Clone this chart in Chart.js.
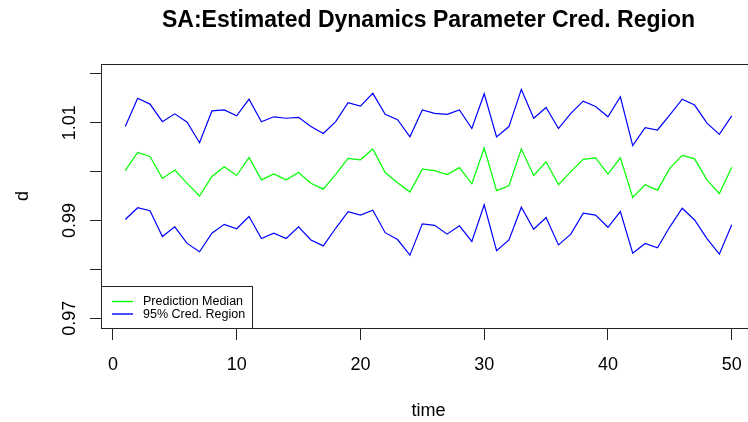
<!DOCTYPE html>
<html>
<head>
<meta charset="utf-8">
<title>SA: Estimated Dynamics Parameter</title>
<script src="https://cdn.jsdelivr.net/npm/chart.js@4.4.1/dist/chart.umd.min.js"></script>
<style>
  html, body { margin: 0; padding: 0; background: #fff; overflow: hidden; }
  #wrap { width: 760px; height: 422px; }
</style>
</head>
<body>
<div id="wrap"><canvas id="credChart" width="760" height="422"></canvas></div>
<script>
// Time steps and posterior summaries of the dynamics parameter d
const timeSteps = [
    1, 2, 3, 4, 5, 6, 7, 8, 9, 10,
    11, 12, 13, 14, 15, 16, 17, 18, 19, 20,
    21, 22, 23, 24, 25, 26, 27, 28, 29, 30,
    31, 32, 33, 34, 35, 36, 37, 38, 39, 40,
    41, 42, 43, 44, 45, 46, 47, 48, 49, 50
];

const upperBound = [
    1.0092, 1.0150, 1.0138, 1.0102, 1.0118, 1.0101, 1.0059, 1.0124, 1.0126, 1.0114,
    1.0148, 1.0102, 1.0112, 1.0109, 1.0111, 1.0092, 1.0078, 1.0102, 1.0141, 1.0134,
    1.0160, 1.0117, 1.0106, 1.0071, 1.0126, 1.0119, 1.0117, 1.0126, 1.0088, 1.0159,
    1.0071, 1.0092, 1.0168, 1.0109, 1.0131, 1.0088, 1.0119, 1.0144, 1.0133, 1.0112,
    1.0153, 1.0053, 1.0090, 1.0085, 1.0116, 1.0148, 1.0136, 1.0099, 1.0076, 1.0114
];

const medianValues = [
    1.0002, 1.0039, 1.0031, 0.9986, 1.0003, 0.9976, 0.9950, 0.9990, 1.0010, 0.9992,
    1.0029, 0.9983, 0.9995, 0.9983, 0.9998, 0.9976, 0.9964, 0.9994, 1.0027, 1.0024,
    1.0046, 0.9998, 0.9977, 0.9958, 1.0005, 1.0002, 0.9994, 1.0008, 0.9975, 1.0048,
    0.9961, 0.9971, 1.0046, 0.9992, 1.0020, 0.9973, 1.0000, 1.0025, 1.0028, 0.9995,
    1.0028, 0.9947, 0.9973, 0.9962, 1.0007, 1.0033, 1.0026, 0.9983, 0.9955, 1.0009
];

const lowerBound = [
    0.9902, 0.9926, 0.9920, 0.9867, 0.9887, 0.9853, 0.9836, 0.9874, 0.9892, 0.9883,
    0.9908, 0.9863, 0.9874, 0.9863, 0.9887, 0.9860, 0.9848, 0.9884, 0.9918, 0.9911,
    0.9921, 0.9875, 0.9861, 0.9829, 0.9893, 0.9890, 0.9872, 0.9889, 0.9857, 0.9932,
    0.9838, 0.9860, 0.9927, 0.9882, 0.9906, 0.9850, 0.9872, 0.9915, 0.9911, 0.9886,
    0.9918, 0.9833, 0.9853, 0.9844, 0.9887, 0.9925, 0.9901, 0.9863, 0.9831, 0.9891
];

// Axis ticks (only every other y tick gets a label, like R does)
const xTicks = [0, 10, 20, 30, 40, 50];
const yTicks = [0.97, 0.98, 0.99, 1.00, 1.01, 1.02];
const yTickLabels = ['0.97', '', '0.99', '', '1.01', ''];

const FONT = '"Liberation Sans", Arial, Helvetica, sans-serif';
const INK = '#222';

function toPoints(values) {
    return timeSteps.map((t, i) => ({ x: t, y: values[i] }));
}

// Draws the parts of a base-R plot that Chart.js does not: box, labels, title, legend
const rPlotDecor = {
    id: 'rPlotDecor',
    afterDraw(chart) {
        const { ctx, chartArea: area, scales: { x, y } } = chart;
        const midX = (area.left + area.right) / 2;
        const midY = (area.top + area.bottom) / 2;
        ctx.save();

        // top and right sides of the plot box
        ctx.strokeStyle = INK;
        ctx.lineWidth = 1;
        ctx.beginPath();
        ctx.moveTo(Math.round(area.left) + 0.5, Math.round(area.top) + 0.5);
        ctx.lineTo(Math.round(area.right) + 0.5, Math.round(area.top) + 0.5);
        ctx.lineTo(Math.round(area.right) + 0.5, Math.round(area.bottom) + 0.5);
        ctx.stroke();

        ctx.fillStyle = '#000';

        // x tick labels
        ctx.font = '18px ' + FONT;
        ctx.textAlign = 'center';
        ctx.textBaseline = 'alphabetic';
        xTicks.forEach(v => {
            ctx.fillText(String(v), x.getPixelForValue(v), 370);
        });

        // y tick labels, rotated
        yTicks.forEach((v, i) => {
            if (!yTickLabels[i]) return;
            ctx.save();
            ctx.translate(75, y.getPixelForValue(v));
            ctx.rotate(-Math.PI / 2);
            ctx.fillText(yTickLabels[i], 0, 0);
            ctx.restore();
        });

        // axis titles
        ctx.fillText('time', midX, 416);
        ctx.save();
        ctx.translate(28, midY);
        ctx.rotate(-Math.PI / 2);
        ctx.fillText('d', 0, 0);
        ctx.restore();

        // main title
        ctx.font = 'bold 23px ' + FONT;
        ctx.fillText('SA:Estimated Dynamics Parameter Cred. Region', midX, 27);

        // legend in the bottom-left corner
        const seen = new Set();
        const entries = chart.data.datasets.filter(ds => {
            if (seen.has(ds.label)) return false;
            seen.add(ds.label);
            return true;
        });
        const boxLeft = Math.round(area.left) + 0.5;
        const boxRight = 252.5;
        const boxBottom = Math.round(area.bottom) + 0.5;
        const boxTop = 286.5;
        ctx.fillStyle = '#fff';
        ctx.fillRect(boxLeft, boxTop, boxRight - boxLeft, boxBottom - boxTop);
        ctx.strokeStyle = INK;
        ctx.strokeRect(boxLeft, boxTop, boxRight - boxLeft, boxBottom - boxTop);

        ctx.font = '12.5px ' + FONT;
        ctx.textAlign = 'left';
        ctx.textBaseline = 'middle';
        ctx.lineWidth = 1.4;
        entries.forEach((ds, i) => {
            const rowY = 301.5 + i * 12.5;
            ctx.strokeStyle = ds.borderColor;
            ctx.beginPath();
            ctx.moveTo(112, rowY);
            ctx.lineTo(133, rowY);
            ctx.stroke();
            ctx.fillStyle = '#000';
            ctx.fillText(ds.label, 143, rowY + 0.5);
        });

        ctx.restore();
    }
};

const lineStyle = {
    borderWidth: 1.2,
    pointRadius: 0,
    tension: 0,
    fill: false
};

new Chart(document.getElementById('credChart'), {
    type: 'line',
    data: {
        datasets: [
            { label: 'Prediction Median', data: toPoints(medianValues), borderColor: '#00FF00', ...lineStyle },
            { label: '95% Cred. Region', data: toPoints(upperBound), borderColor: '#0000FF', ...lineStyle },
            { label: '95% Cred. Region', data: toPoints(lowerBound), borderColor: '#0000FF', ...lineStyle }
        ]
    },
    options: {
        responsive: false,
        animation: false,
        devicePixelRatio: 1,
        layout: { padding: { left: 0, top: 64, right: 4, bottom: 0 } },
        plugins: {
            legend: { display: false },
            title: { display: false },
            tooltip: { enabled: false }
        },
        scales: {
            x: {
                type: 'linear',
                min: -0.96,
                max: 51.96,
                afterBuildTicks: s => { s.ticks = xTicks.map(v => ({ value: v })); },
                afterFit: s => { s.height = 94; },
                ticks: { display: false },
                grid: { drawOnChartArea: false, drawTicks: true, tickLength: 12, color: INK },
                border: { display: true, color: INK, width: 1 }
            },
            y: {
                type: 'linear',
                min: 0.968,
                max: 1.022,
                afterBuildTicks: s => { s.ticks = yTicks.map(v => ({ value: v })); },
                afterFit: s => { s.width = 101; },
                ticks: { display: false },
                grid: { drawOnChartArea: false, drawTicks: true, tickLength: 11, color: INK },
                border: { display: true, color: INK, width: 1 }
            }
        }
    },
    plugins: [rPlotDecor]
});
</script>
</body>
</html>
